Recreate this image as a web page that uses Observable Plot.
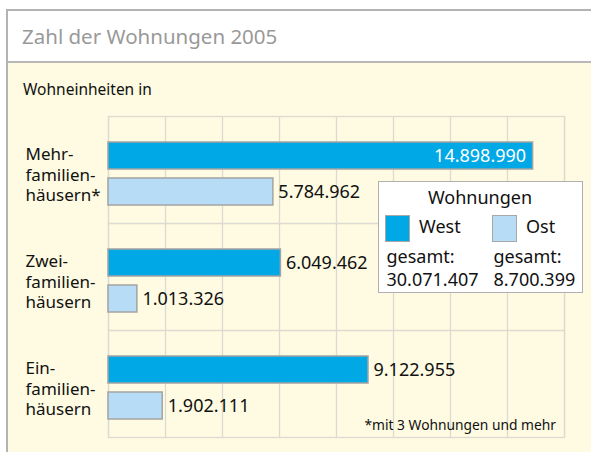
<!DOCTYPE html>
<html>
<head>
<meta charset="utf-8">
<script src="https://cdn.jsdelivr.net/npm/d3@7"></script>
<script src="https://cdn.jsdelivr.net/npm/@observablehq/plot@0.6"></script>
<style>
  html, body { margin: 0; padding: 0; background: #fff; }
  #page { position: relative; width: 591px; height: 452px; overflow: hidden; background: #fff; font-family: "Noto Sans", sans-serif; }
  .abs { position: absolute; white-space: nowrap; line-height: 1; }
  #chart { position: absolute; left: 0; top: 63px; }
</style>
</head>
<body>
<div id="page">
  <div class="abs" style="left:6px;top:9px;width:620px;height:470px;border:2px solid #b3b3b3;box-sizing:border-box;"></div>
  <div class="abs" style="left:8px;top:62px;width:620px;height:400px;background:#fefbe2;"></div>
  <div class="abs" style="left:8px;top:61px;width:620px;height:0;border-top:2px solid #b8b8b8;"></div>
  <div class="abs" id="title" style="left:22px;top:26.3px;font-size:20.5px;color:#999;"></div>
  <div class="abs" id="subtitle" style="left:23px;top:81.5px;font-size:15.5px;color:#111;"></div>
  <div id="chart"></div>
  <div class="abs" id="legend" style="left:378px;top:181px;width:205px;height:112px;background:#fff;border:1.5px solid #b0b0b0;box-sizing:border-box;"></div>
  <div class="abs" id="footnote" style="right:35px;top:418px;font-size:13.8px;color:#111;"></div>
</div>
<script>
const title = "Zahl der Wohnungen 2005";
const subtitle = "Wohneinheiten in";
const categories = ["Mehr-\nfamilien-\nhäusern*", "Zwei-\nfamilien-\nhäusern", "Ein-\nfamilien-\nhäusern"];
const series = ["West", "Ost"];
const westValues = [14898990, 6049462, 9122955];
const ostValues = [5784962, 1013326, 1902111];
const xTicks = [0, 2e6, 4e6, 6e6, 8e6, 10e6, 12e6, 14e6, 16e6];
const legendTitle = "Wohnungen";
const totalLabel = "gesamt:";
const footnote = "*mit 3 Wohnungen und mehr";
const colors = ["#00a8e6", "#b6ddf5"];

const fmt = d3.formatLocale({decimal: ",", thousands: ".", grouping: [3], currency: ["", " €"]}).format(",d");

const data = [];
categories.forEach((c, i) => {
  data.push({cat: c, series: "West", value: westValues[i]});
  data.push({cat: c, series: "Ost", value: ostValues[i]});
});

document.getElementById("title").textContent = title;
document.getElementById("subtitle").textContent = subtitle;
document.getElementById("footnote").textContent = footnote;

const FONT = "'Noto Sans', sans-serif";

const chart = Plot.plot({
  width: 591,
  height: 389,
  marginLeft: 108,
  marginRight: 27,
  marginTop: 52,
  marginBottom: 15,
  style: {background: "transparent", fontFamily: FONT, fontSize: "17px", color: "#111", overflow: "visible"},
  x: {domain: [0, 16e6], axis: null},
  y: {domain: series, paddingInner: 0.25, paddingOuter: 0, insetTop: 26, insetBottom: 18, axis: null},
  fy: {domain: categories, padding: 0, axis: null},
  color: {domain: series, range: colors},
  marks: [
    Plot.ruleX(xTicks, {x: d => d, stroke: "#dcdad2", strokeWidth: 1.3}),
    Plot.frame({stroke: "#dcdad2", strokeWidth: 1.3}),
    Plot.barX(data, {fy: "cat", y: "series", x: "value", fill: "series", stroke: "#a3a3a3", strokeWidth: 1.5}),
    Plot.text(data, {filter: d => d.value > 12e6, fy: "cat", y: "series", x: "value", text: d => fmt(d.value), textAnchor: "end", dx: -7, fill: "#fff", fontSize: 18}),
    Plot.text(data, {filter: d => d.value <= 12e6, fy: "cat", y: "series", x: "value", text: d => fmt(d.value), textAnchor: "start", dx: 5, fill: "#111", fontSize: 18}),
    Plot.text(categories, {fy: d => d, text: d => d, frameAnchor: "left", textAnchor: "start", dx: -83, dy: 4, lineHeight: 1.2, fill: "#111", fontSize: 17})
  ]
});
document.getElementById("chart").appendChild(chart);

// Legend
const legend = document.getElementById("legend");
const totals = [d3.sum(westValues), d3.sum(ostValues)];
function addText(parent, txt, left, top, size, extra) {
  const d = document.createElement("div");
  d.className = "abs";
  d.textContent = txt;
  d.style.left = left + "px";
  d.style.top = top + "px";
  d.style.fontSize = size + "px";
  d.style.color = "#111";
  if (extra) Object.assign(d.style, extra);
  parent.appendChild(d);
  return d;
}
// positions relative to legend box (left 378, top 181)
addText(legend, legendTitle, 0, 203.3 - 181 - 16, 18, {width: "202px", textAlign: "center", left: "0px"});
const colX = [6, 113];
series.forEach((s, i) => {
  const sw = document.createElement("div");
  sw.className = "abs";
  Object.assign(sw.style, {left: colX[i] + "px", top: (214 - 181) + "px", width: "25px", height: "27px", background: colors[i], border: "1.5px solid #a8a8a8", boxSizing: "border-box"});
  legend.appendChild(sw);
  addText(legend, s, colX[i] + 34, 232 - 181 - 16, 18);
  addText(legend, totalLabel, colX[i] + 1.5, 261.7 - 181 - 16, 18);
  addText(legend, fmt(totals[i]), colX[i] + 1.5, 285 - 181 - 16, 18);
});
</script>
</body>
</html>
